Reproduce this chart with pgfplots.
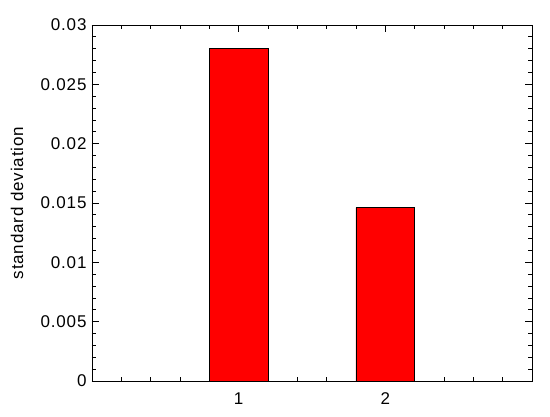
\documentclass[border=0pt]{standalone}
\usepackage{pgfplots}
\pgfplotsset{compat=1.18}
\usepackage{fontspec}
\setmainfont{Liberation Sans}[LetterSpace=5]
\begin{document}
\begin{tikzpicture}
\begin{axis}[
  scale only axis, width=440pt, height=356pt,
  xmin=0, xmax=3, ymin=0, ymax=0.03,
  xtick={1,2}, minor xtick={0,0.2,...,3},
  ytick={0,0.005,0.01,0.015,0.02,0.025,0.03},
  minor ytick={0,0.001,...,0.0305},
  scaled y ticks=false,
  yticklabel style={/pgf/number format/fixed, /pgf/number format/precision=3},
  /pgf/number format/assume math mode=true,
  tick align=inside,
  major tick length=7pt, minor tick length=4pt,
  axis line style={line width=0.8pt},
  every tick/.style={black, line width=0.8pt},
  tick label style={font=\fontsize{17}{20}\selectfont},
  label style={font=\fontsize{17}{20}\selectfont},
  ylabel={standard deviation},
  ylabel style={at={(rel axis cs:0,0.5)}, anchor=center, yshift=75pt},
  xticklabel style={yshift=-8pt},
  yticklabel style={xshift=-2pt},
]
\addplot[ybar, bar width=0.4, fill=red, draw=black, line width=0.6pt] coordinates {(1,0.028) (2,0.0146)};
\end{axis}
\path[use as bounding box] (current axis.south west) ++(-92pt,-35pt) rectangle ++(550pt,416pt);
\end{tikzpicture}
\end{document}
